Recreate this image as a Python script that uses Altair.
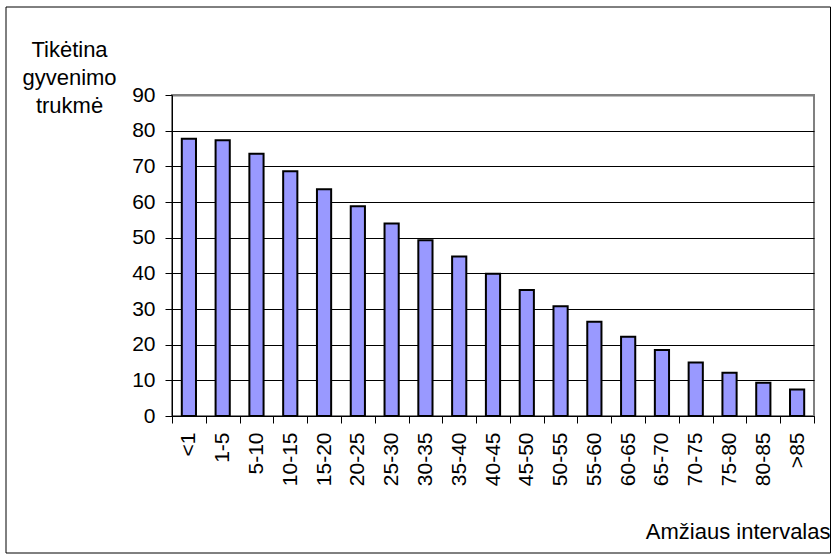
import altair as alt
import pandas as pd

categories = ["<1", "1-5", "5-10", "10-15", "15-20", "20-25", "25-30", "30-35",
              "35-40", "40-45", "45-50", "50-55", "55-60", "60-65", "65-70",
              "70-75", "75-80", "80-85", ">85"]
values = [77.7, 77.3, 73.5, 68.6, 63.6, 58.8, 54.0, 49.3, 44.7, 39.9,
          35.3, 30.8, 26.4, 22.2, 18.5, 15.0, 12.1, 9.3, 7.4]
y_ticks = [0, 10, 20, 30, 40, 50, 60, 70, 80, 90]
y_title = ["Tikėtina", "gyvenimo", "trukmė"]
x_title = "Amžiaus intervalas"

df = pd.DataFrame({"interval": categories, "value": values})

FONT = "Liberation Sans"
W, H = 642, 321
PL, PT = 172, 95

bars = alt.Chart(df).mark_bar(
    fill="#9999FF", stroke="black", strokeWidth=2,
    width=alt.RelativeBandSize(0.42)
).encode(
    x=alt.X("interval:N", sort=categories,
            scale=alt.Scale(paddingInner=0, paddingOuter=0),
            axis=alt.Axis(title=x_title, labelAngle=270, labelAlign="right",
                          labelBaseline="middle", labelFontSize=21, labelFont=FONT,
                          labelColor="black", labelPadding=9, labelOverlap=False,
                          labelBound=False,
                          tickBand="extent", tickSize=7, tickColor="black",
                          domainColor="black", domainWidth=1, grid=False,
                          titleFont=FONT, titleFontSize=22, titleFontWeight="normal",
                          titleColor="black", titleX=658, titleY=122,
                          titleAlign="right", titleBaseline="alphabetic",
                          titleAnchor="end")),
    y=alt.Y("value:Q", scale=alt.Scale(domain=[0, 90], nice=False),
            axis=alt.Axis(values=y_ticks, title=y_title, titleAngle=0,
                          titleX=69 - PL, titleY=56 - PT, titleAlign="center",
                          titleBaseline="alphabetic", titleLineHeight=28,
                          titleFont=FONT, titleFontSize=22, titleFontWeight="normal",
                          titleColor="black",
                          labelFont=FONT, labelFontSize=21, labelColor="black",
                          labelPadding=10, tickSize=7, tickColor="black",
                          domainColor="black", domainWidth=1,
                          grid=True,
                          gridColor={"condition": {"test": "datum.value == 90", "value": "#808080"},
                                     "value": "black"},
                          gridWidth={"condition": {"test": "datum.value == 90", "value": 2},
                                     "value": 1}))
)

border = alt.Chart(alt.Data(values=[{}])).mark_rect(
    fillOpacity=0, stroke="black", strokeWidth=1
).encode(
    x=alt.value(6 - PL), x2=alt.value(830.5 - PL),
    y=alt.value(7 - PT), y2=alt.value(553 - PT)
)

chart = alt.layer(bars, border).properties(
    width=W, height=H,
    autosize=alt.AutoSizeParams(type="none"),
    padding={"left": PL, "top": PT, "right": 832 - PL - W, "bottom": 554 - PT - H},
    background="white"
).configure_view(stroke="#808080", strokeWidth=2)

chart.save("out.html", embed_options={"renderer": "svg", "actions": False})
